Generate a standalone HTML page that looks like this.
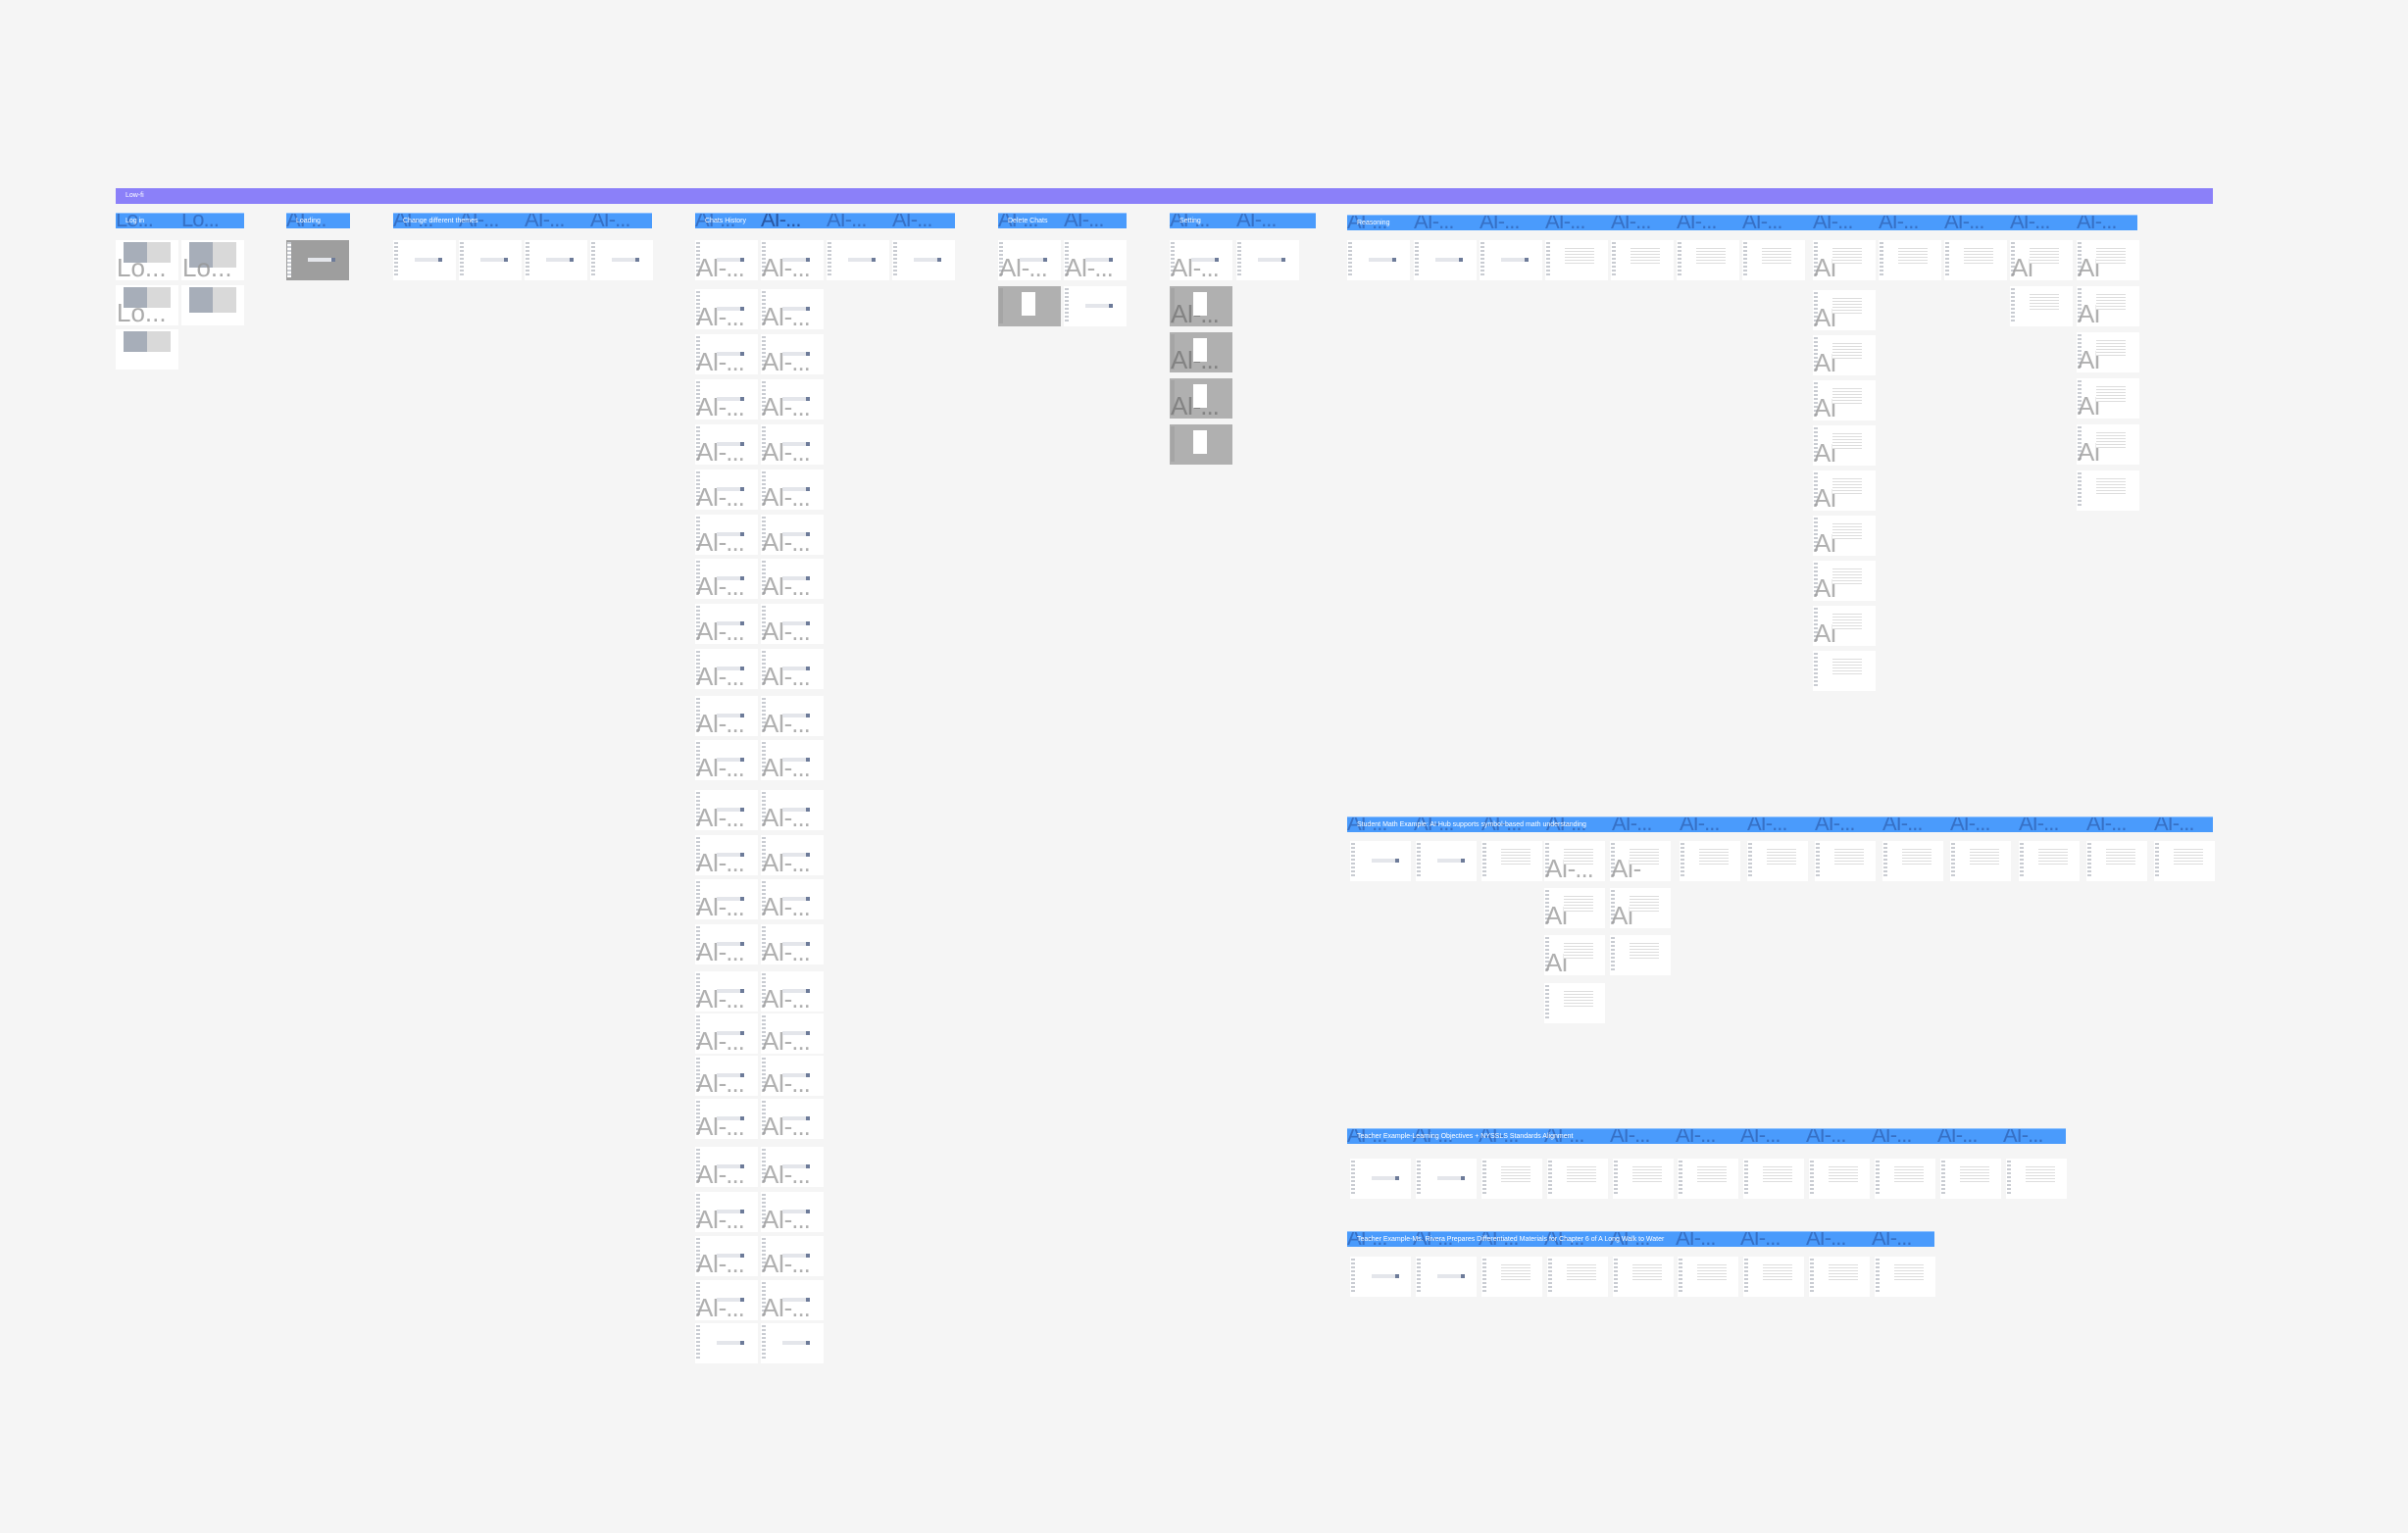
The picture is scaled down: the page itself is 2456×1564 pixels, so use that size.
<!DOCTYPE html>
<html><head><meta charset="utf-8">
<style>
html,body{margin:0;padding:0}
body{width:2456px;height:1564px;background:#f5f5f5;position:relative;overflow:hidden;font-family:"Liberation Sans",sans-serif}
.p{position:absolute;left:118px;top:192px;width:2139px;height:16px;background:#8b80f9;color:#fff;font-size:7px;line-height:16px;padding-left:10px;box-sizing:border-box}
.h{position:absolute;height:16px;background:#4a9bfc;border-top:1px solid #8cc0ff;color:#fff;font-size:7px;line-height:15px;box-sizing:border-box;overflow:hidden;white-space:nowrap}
.h span{position:absolute;left:10px;top:0}
.h i{position:absolute;top:-6px;font-style:normal;font-size:22px;line-height:24px;color:rgba(30,60,130,.45);letter-spacing:-1px}
.c{position:absolute;width:64px;height:41px;background:#fff;overflow:hidden}
.c:before{content:"";position:absolute;left:1px;top:2px;width:4px;height:36px;background:repeating-linear-gradient(#c9ccd2 0 2px,#fff 2px 4px)}
.c:after{content:"";position:absolute;left:22px;top:18px;width:24px;height:4px;background:#e4e6eb;border-right:4px solid #6d7b99}
.c b{position:absolute;left:1px;top:14px;font-size:26px;line-height:28px;font-weight:normal;color:rgba(150,150,150,.75);letter-spacing:-1px}
.c.s{width:62px}
.c.t:after{left:20px;top:6px;width:30px;height:18px;background:repeating-linear-gradient(#fff 0 2px,#ddd 2px 3px);border:0}
.g{background:#b0b0b0}
.g:before{background:#a5a5a5}
.g:after{left:24px;top:6px;width:14px;height:24px;background:#fff;border:0}
.l{position:absolute;width:64px;height:41px;background:#fff;overflow:hidden}
.l .i{position:absolute;left:8px;top:2px;width:48px;height:21px;background:linear-gradient(to right,#a7aeb9 0 24px,#d9d9d9 24px)}
.l b{position:absolute;left:1px;top:14px;font-size:26px;line-height:28px;font-weight:normal;color:rgba(150,150,150,.8)}
</style></head><body>
<div class="p">Low-fi</div>

<!-- Log in -->
<div class="h" style="left:118px;top:217px;width:131px"><i style="left:0">Lo...</i><i style="left:67px">Lo...</i><span>Log in</span></div>
<div class="l" style="left:118px;top:245px"><div class="i"></div><b>Lo...</b></div>
<div class="l" style="left:185px;top:245px"><div class="i" style="height:26px"></div><b>Lo...</b></div>
<div class="l" style="left:118px;top:291px"><div class="i"></div><b>Lo...</b></div>
<div class="l" style="left:185px;top:291px"><div class="i" style="height:26px"></div></div>
<div class="l" style="left:118px;top:336px"><div class="i"></div></div>

<!-- Loading -->
<div class="h" style="left:292px;top:217px;width:65px"><i style="left:0">AI-...</i><span>Loading</span></div>
<div class="c" style="left:292px;top:245px;background:#9e9e9e"></div>

<!-- Themes -->
<div class="h" style="left:401px;top:217px;width:264px"><i style="left:0">AI-...</i><i style="left:67px">AI-...</i><i style="left:134px">AI-...</i><i style="left:201px">AI-...</i><span>Change different themes</span></div>
<div class="c" style="left:401px;top:245px"></div>
<div class="c" style="left:468px;top:245px"></div>
<div class="c" style="left:535px;top:245px"></div>
<div class="c" style="left:602px;top:245px"></div>

<!-- Chats History -->
<div class="h" style="left:709px;top:217px;width:265px"><i style="left:0">AI-...</i><i style="left:67px;color:rgba(20,40,100,.6)">AI-...</i><i style="left:134px">AI-...</i><i style="left:201px">AI-...</i><span>Chats History</span></div>
<div class="c" style="left:709px;top:245px"><b>AI-...</b></div>
<div class="c" style="left:776px;top:245px"><b>AI-...</b></div>
<div class="c" style="left:843px;top:245px"></div>
<div class="c" style="left:910px;top:245px"></div>
<div class="c" style="left:709px;top:295px"><b>AI-...</b></div><div class="c" style="left:776px;top:295px"><b>AI-...</b></div>
<div class="c" style="left:709px;top:341px"><b>AI-...</b></div><div class="c" style="left:776px;top:341px"><b>AI-...</b></div>
<div class="c" style="left:709px;top:387px"><b>AI-...</b></div><div class="c" style="left:776px;top:387px"><b>AI-...</b></div>
<div class="c" style="left:709px;top:433px"><b>AI-...</b></div><div class="c" style="left:776px;top:433px"><b>AI-...</b></div>
<div class="c" style="left:709px;top:479px"><b>AI-...</b></div><div class="c" style="left:776px;top:479px"><b>AI-...</b></div>
<div class="c" style="left:709px;top:525px"><b>AI-...</b></div><div class="c" style="left:776px;top:525px"><b>AI-...</b></div>
<div class="c" style="left:709px;top:570px"><b>AI-...</b></div><div class="c" style="left:776px;top:570px"><b>AI-...</b></div>
<div class="c" style="left:709px;top:616px"><b>AI-...</b></div><div class="c" style="left:776px;top:616px"><b>AI-...</b></div>
<div class="c" style="left:709px;top:662px"><b>AI-...</b></div><div class="c" style="left:776px;top:662px"><b>AI-...</b></div>
<div class="c" style="left:709px;top:710px"><b>AI-...</b></div><div class="c" style="left:776px;top:710px"><b>AI-...</b></div>
<div class="c" style="left:709px;top:755px"><b>AI-...</b></div><div class="c" style="left:776px;top:755px"><b>AI-...</b></div>
<div class="c" style="left:709px;top:806px"><b>AI-...</b></div><div class="c" style="left:776px;top:806px"><b>AI-...</b></div>
<div class="c" style="left:709px;top:852px"><b>AI-...</b></div><div class="c" style="left:776px;top:852px"><b>AI-...</b></div>
<div class="c" style="left:709px;top:897px"><b>AI-...</b></div><div class="c" style="left:776px;top:897px"><b>AI-...</b></div>
<div class="c" style="left:709px;top:943px"><b>AI-...</b></div><div class="c" style="left:776px;top:943px"><b>AI-...</b></div>
<div class="c" style="left:709px;top:991px"><b>AI-...</b></div><div class="c" style="left:776px;top:991px"><b>AI-...</b></div>
<div class="c" style="left:709px;top:1034px"><b>AI-...</b></div><div class="c" style="left:776px;top:1034px"><b>AI-...</b></div>
<div class="c" style="left:709px;top:1077px"><b>AI-...</b></div><div class="c" style="left:776px;top:1077px"><b>AI-...</b></div>
<div class="c" style="left:709px;top:1121px"><b>AI-...</b></div><div class="c" style="left:776px;top:1121px"><b>AI-...</b></div>
<div class="c" style="left:709px;top:1170px"><b>AI-...</b></div><div class="c" style="left:776px;top:1170px"><b>AI-...</b></div>
<div class="c" style="left:709px;top:1216px"><b>AI-...</b></div><div class="c" style="left:776px;top:1216px"><b>AI-...</b></div>
<div class="c" style="left:709px;top:1261px"><b>AI-...</b></div><div class="c" style="left:776px;top:1261px"><b>AI-...</b></div>
<div class="c" style="left:709px;top:1306px"><b>AI-...</b></div><div class="c" style="left:776px;top:1306px"><b>AI-...</b></div>
<div class="c" style="left:709px;top:1350px"></div><div class="c" style="left:776px;top:1350px"></div>

<!-- Delete Chats -->
<div class="h" style="left:1018px;top:217px;width:131px"><i style="left:0">AI-...</i><i style="left:67px">AI-...</i><span>Delete Chats</span></div>
<div class="c" style="left:1018px;top:245px"><b>AI-...</b></div>
<div class="c" style="left:1085px;top:245px"><b>AI-...</b></div>
<div class="c g" style="left:1018px;top:292px"></div>
<div class="c" style="left:1085px;top:292px"></div>

<!-- Setting -->
<div class="h" style="left:1193px;top:217px;width:149px"><i style="left:0">AI-...</i><i style="left:68px">AI-...</i><span>Setting</span></div>
<div class="c" style="left:1193px;top:245px"><b>AI-...</b></div>
<div class="c" style="left:1261px;top:245px"></div>
<div class="c g" style="left:1193px;top:292px"><b style="color:rgba(120,120,120,.8)">AI-...</b></div>
<div class="c g" style="left:1193px;top:339px"><b style="color:rgba(120,120,120,.8)">AI-...</b></div>
<div class="c g" style="left:1193px;top:386px"><b style="color:rgba(120,120,120,.8)">AI-...</b></div>
<div class="c g" style="left:1193px;top:433px"></div>

<!-- Reasoning -->
<div class="h" style="left:1374px;top:219px;width:806px"><i style="left:0">AI-...</i><i style="left:68px">AI-...</i><i style="left:135px">AI-...</i><i style="left:202px">AI-...</i><i style="left:269px">AI-...</i><i style="left:336px">AI-...</i><i style="left:403px">AI-...</i><i style="left:475px">AI-...</i><i style="left:542px">AI-...</i><i style="left:609px">AI-...</i><i style="left:676px">AI-...</i><i style="left:744px">AI-...</i><span>Reasoning</span></div>
<div class="c" style="left:1374px;top:245px"></div>
<div class="c" style="left:1442px;top:245px"></div>
<div class="c" style="left:1509px;top:245px"></div>
<div class="c t" style="left:1576px;top:245px"></div>
<div class="c t" style="left:1643px;top:245px"></div>
<div class="c t" style="left:1710px;top:245px"></div>
<div class="c t" style="left:1777px;top:245px"></div>
<div class="c t" style="left:1849px;top:245px"><b>AI</b></div>
<div class="c t" style="left:1916px;top:245px"></div>
<div class="c t" style="left:1983px;top:245px"></div>
<div class="c t" style="left:2050px;top:245px"><b>AI</b></div>
<div class="c t" style="left:2118px;top:245px"><b>AI</b></div>
<div class="c t" style="left:1849px;top:296px"><b>AI</b></div>
<div class="c t" style="left:1849px;top:342px"><b>AI</b></div>
<div class="c t" style="left:1849px;top:388px"><b>AI</b></div>
<div class="c t" style="left:1849px;top:434px"><b>AI</b></div>
<div class="c t" style="left:1849px;top:480px"><b>AI</b></div>
<div class="c t" style="left:1849px;top:526px"><b>AI</b></div>
<div class="c t" style="left:1849px;top:572px"><b>AI</b></div>
<div class="c t" style="left:1849px;top:618px"><b>AI</b></div>
<div class="c t" style="left:1849px;top:664px"></div>
<div class="c t" style="left:2050px;top:292px"></div>
<div class="c t" style="left:2118px;top:292px"><b>AI</b></div>
<div class="c t" style="left:2118px;top:339px"><b>AI</b></div>
<div class="c t" style="left:2118px;top:386px"><b>AI</b></div>
<div class="c t" style="left:2118px;top:433px"><b>AI</b></div>
<div class="c t" style="left:2118px;top:480px"></div>

<!-- Student Math -->
<div class="h" style="left:1374px;top:833px;width:883px"><i style="left:0">AI-...</i><i style="left:68px">AI-...</i><i style="left:137px">AI-...</i><i style="left:203px">AI-...</i><i style="left:270px">AI-...</i><i style="left:339px">AI-...</i><i style="left:408px">AI-...</i><i style="left:477px">AI-...</i><i style="left:546px">AI-...</i><i style="left:615px">AI-...</i><i style="left:685px">AI-...</i><i style="left:754px">AI-...</i><i style="left:823px">AI-...</i><span>Student Math Example: AI Hub supports symbol-based math understanding</span></div>
<div class="c s" style="left:1377px;top:858px"></div>
<div class="c s" style="left:1444px;top:858px"></div>
<div class="c s t" style="left:1511px;top:858px"></div>
<div class="c s t" style="left:1575px;top:858px"><b>AI-...</b></div>
<div class="c s t" style="left:1642px;top:858px"><b>AI-</b></div>
<div class="c s t" style="left:1713px;top:858px"></div>
<div class="c s t" style="left:1782px;top:858px"></div>
<div class="c s t" style="left:1851px;top:858px"></div>
<div class="c s t" style="left:1920px;top:858px"></div>
<div class="c s t" style="left:1989px;top:858px"></div>
<div class="c s t" style="left:2059px;top:858px"></div>
<div class="c s t" style="left:2128px;top:858px"></div>
<div class="c s t" style="left:2197px;top:858px"></div>
<div class="c s t" style="left:1575px;top:906px"><b>AI</b></div>
<div class="c s t" style="left:1642px;top:906px"><b>AI</b></div>
<div class="c s t" style="left:1575px;top:954px"><b>AI</b></div>
<div class="c s t" style="left:1642px;top:954px"></div>
<div class="c s t" style="left:1575px;top:1003px"></div>

<!-- Teacher LO -->
<div class="h" style="left:1374px;top:1151px;width:733px"><i style="left:0">AI-...</i><i style="left:67px">AI-...</i><i style="left:134px">AI-...</i><i style="left:201px">AI-...</i><i style="left:268px">AI-...</i><i style="left:335px">AI-...</i><i style="left:401px">AI-...</i><i style="left:468px">AI-...</i><i style="left:535px">AI-...</i><i style="left:602px">AI-...</i><i style="left:669px">AI-...</i><span>Teacher Example-Learning Objectives + NYSSLS Standards Alignment</span></div>
<div class="c s" style="left:1377px;top:1182px"></div>
<div class="c s" style="left:1444px;top:1182px"></div>
<div class="c s t" style="left:1511px;top:1182px"></div>
<div class="c s t" style="left:1578px;top:1182px"></div>
<div class="c s t" style="left:1645px;top:1182px"></div>
<div class="c s t" style="left:1711px;top:1182px"></div>
<div class="c s t" style="left:1778px;top:1182px"></div>
<div class="c s t" style="left:1845px;top:1182px"></div>
<div class="c s t" style="left:1912px;top:1182px"></div>
<div class="c s t" style="left:1979px;top:1182px"></div>
<div class="c s t" style="left:2046px;top:1182px"></div>

<!-- Teacher Ms -->
<div class="h" style="left:1374px;top:1256px;width:599px"><i style="left:0">AI-...</i><i style="left:67px">AI-...</i><i style="left:134px">AI-...</i><i style="left:201px">AI-...</i><i style="left:268px">AI-...</i><i style="left:335px">AI-...</i><i style="left:401px">AI-...</i><i style="left:468px">AI-...</i><i style="left:535px">AI-...</i><span>Teacher Example-Ms. Rivera Prepares Differentiated Materials for Chapter 6 of A Long Walk to Water</span></div>
<div class="c s" style="left:1377px;top:1282px"></div>
<div class="c s" style="left:1444px;top:1282px"></div>
<div class="c s t" style="left:1511px;top:1282px"></div>
<div class="c s t" style="left:1578px;top:1282px"></div>
<div class="c s t" style="left:1645px;top:1282px"></div>
<div class="c s t" style="left:1711px;top:1282px"></div>
<div class="c s t" style="left:1778px;top:1282px"></div>
<div class="c s t" style="left:1845px;top:1282px"></div>
<div class="c s t" style="left:1912px;top:1282px"></div>
</body></html>
